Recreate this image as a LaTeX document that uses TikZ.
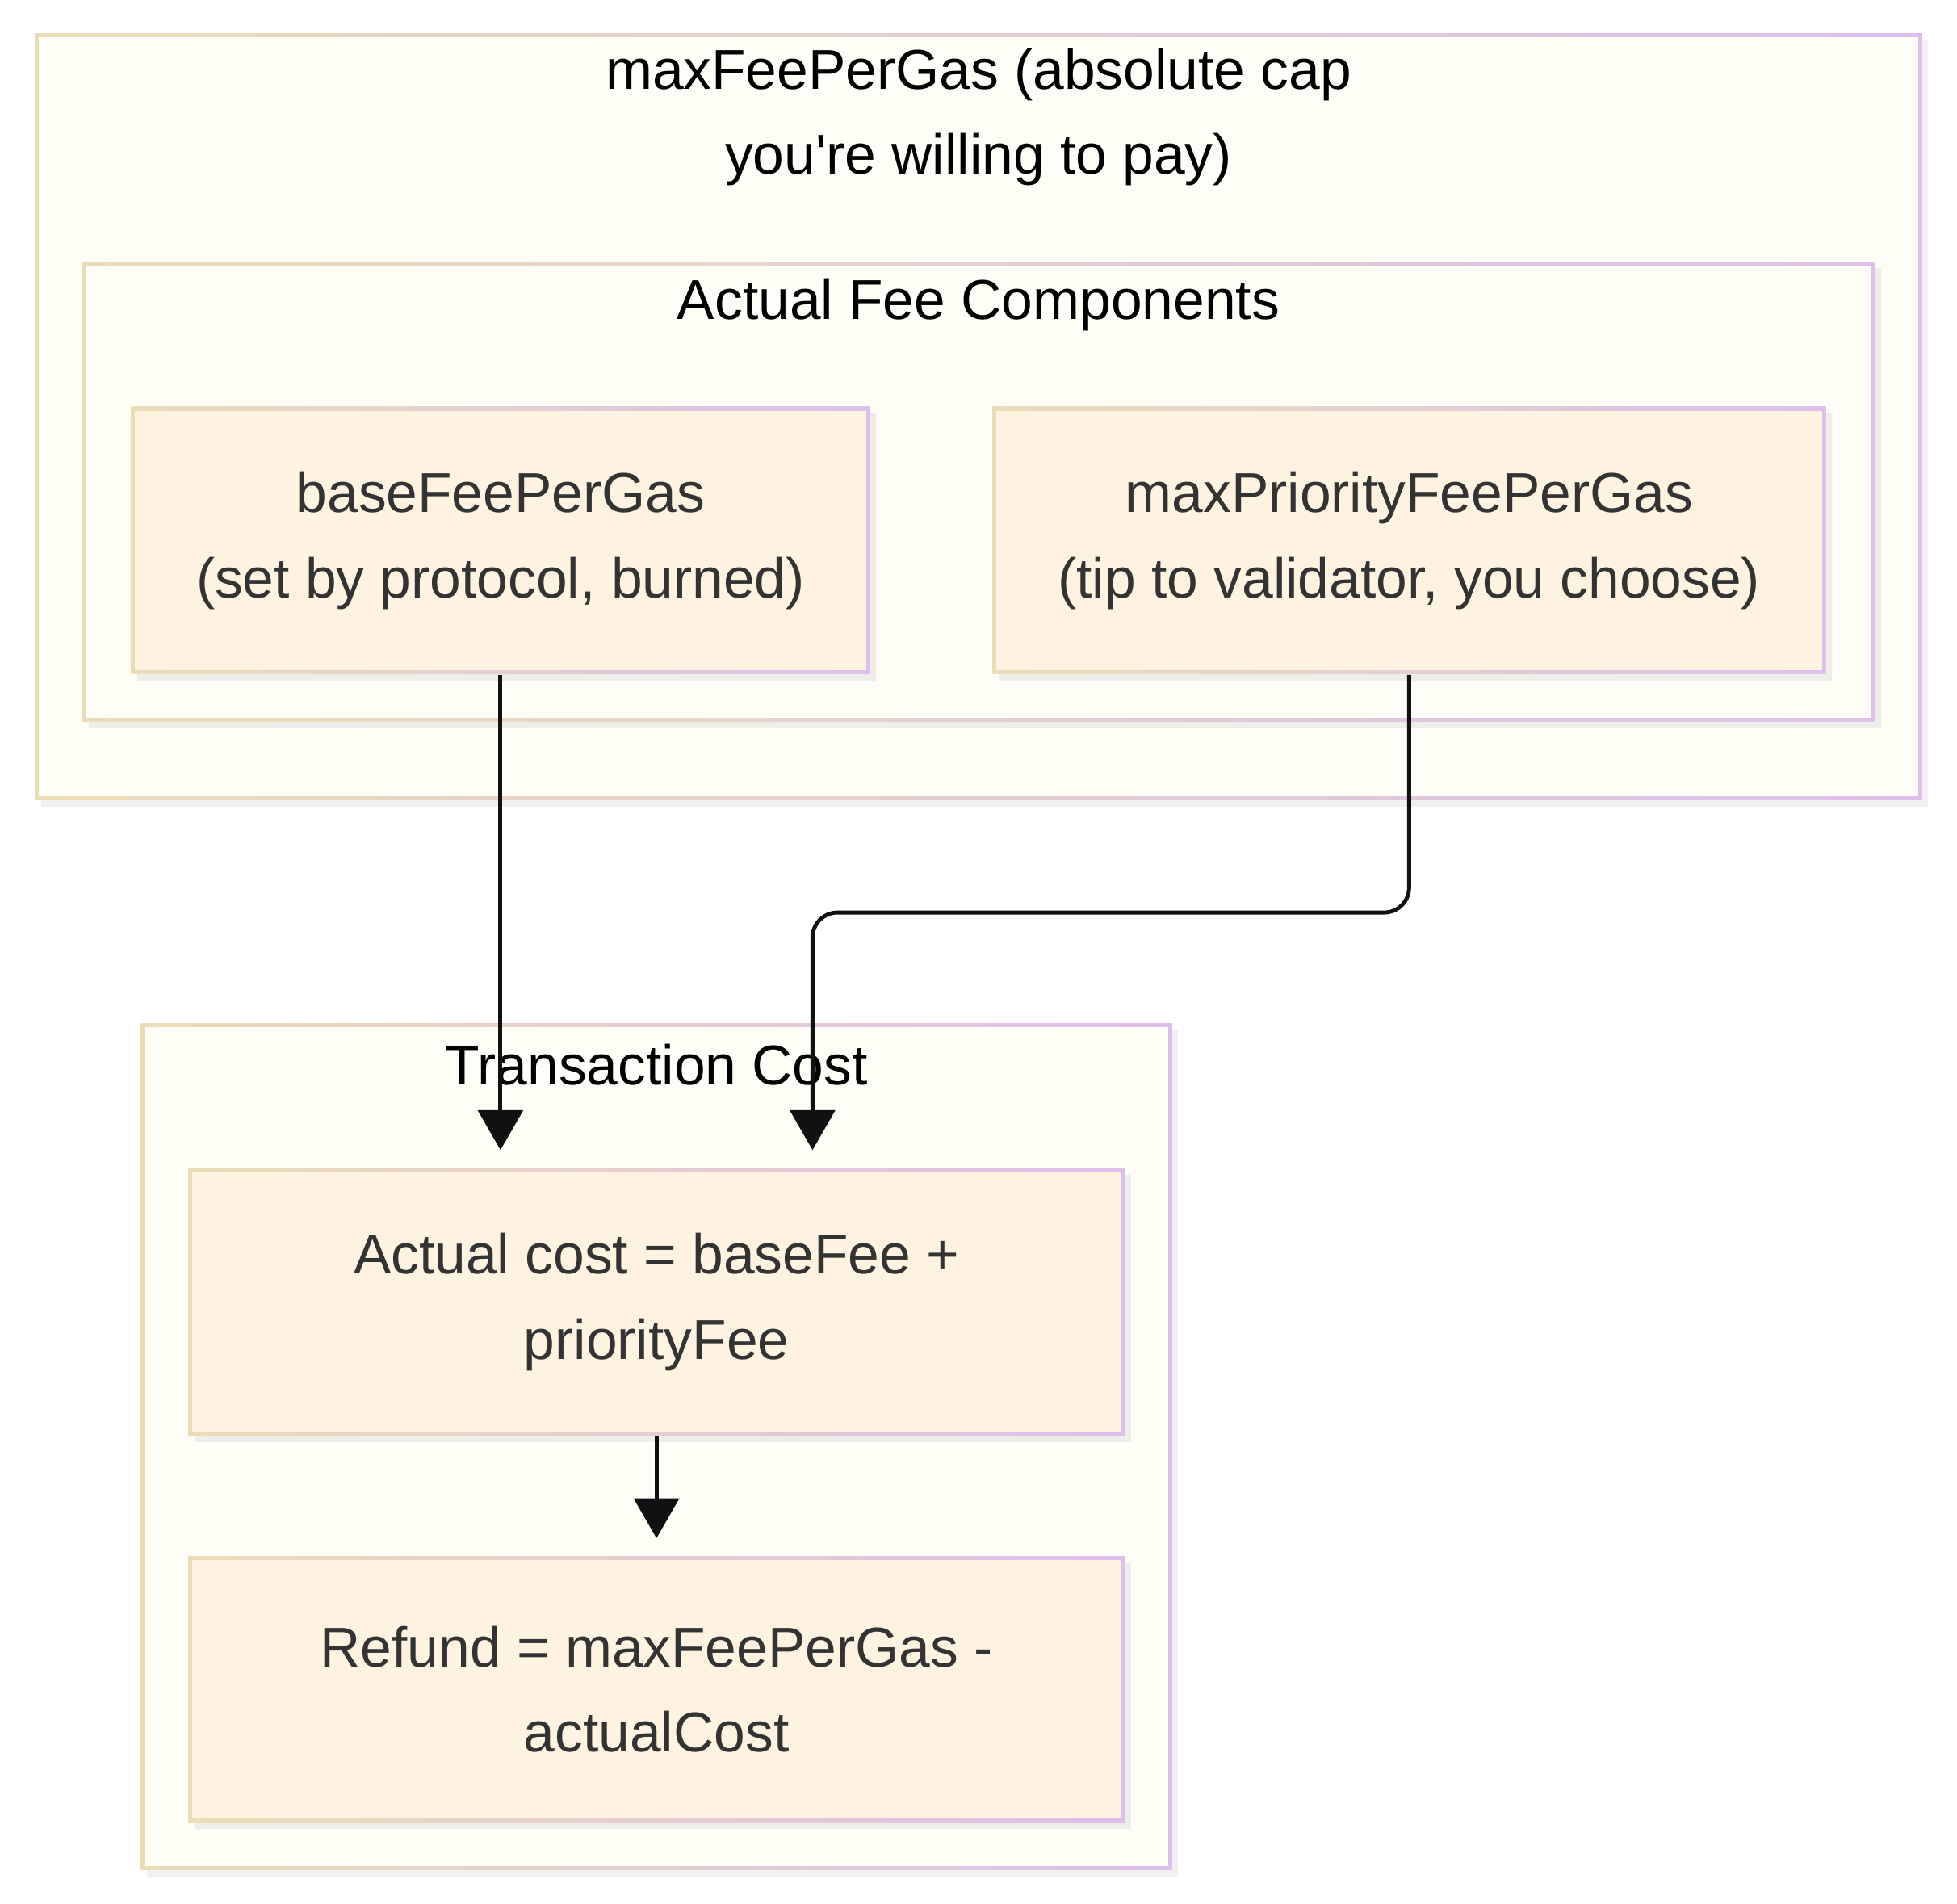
\documentclass[tikz,border=0pt]{standalone}
\usepackage{fontspec}
\setmainfont{Liberation Sans}
\usetikzlibrary{positioning,arrows.meta,shadows}
\definecolor{edgeA}{RGB}{236,220,182}
\definecolor{edgeB}{RGB}{222,190,236}
\definecolor{clfill}{RGB}{254,254,247}
\definecolor{bxfill}{RGB}{253,243,224}
\definecolor{txgray}{RGB}{51,51,51}
\definecolor{arblack}{RGB}{17,17,17}

\begin{document}
\begin{tikzpicture}[>={Triangle[length=0.32cm,width=0.36cm]},
    sh/.style={drop shadow={shadow xshift=0.05cm,shadow yshift=-0.05cm,opacity=0.12}},
    frame/.style={rectangle,inner sep=0pt,left color=edgeA,right color=edgeB,sh,
                  path picture={\fill[#1] ([shift={(0.03,-0.03)}]path picture bounding box.north west)
                                rectangle ([shift={(-0.03,0.03)}]path picture bounding box.south east);}},
    clus/.style={frame=clfill},
    box/.style={frame=bxfill,text=txgray,align=center,
                font=\fontsize{12.8}{19.4}\selectfont},
    ttl/.style={align=center,text=black,font=\fontsize{12.8}{19.4}\selectfont},
    ar/.style={->,line width=0.9pt,draw=arblack,shorten >=0.14cm}]
    \useasboundingbox (0,0) rectangle (15.68,-15.25);
    % clusters
    \node[clus,minimum width=15.12cm,minimum height=6.14cm] (cap) at (7.84,-3.34) {};
    \node[ttl] (capt) at (7.84,-0.94) {maxFeePerGas (absolute cap\\ you\textquotesingle re willing to pay)};
    \node[clus,minimum width=14.36cm,minimum height=3.68cm] (comp) at (7.84,-3.94) {};
    \node[ttl] (compt) at (7.84,-2.44) {Actual Fee Components};
    \node[clus,minimum width=8.26cm,minimum height=6.78cm] (tx) at (5.26,-11.59) {};
    \node[ttl] (txt) at (5.26,-8.53) {Transaction Cost};
    % boxes
    \node[box,minimum width=5.92cm,minimum height=2.14cm] (base) at (4.01,-4.33)
      {baseFeePerGas\\ (set by protocol, burned)};
    \node[box,minimum width=6.68cm,minimum height=2.14cm] (prio) at (11.29,-4.33)
      {maxPriorityFeePerGas\\ (tip to validator, you choose)};
    \node[box,minimum width=7.50cm,minimum height=2.14cm] (act) at (5.26,-10.43)
      {Actual cost = baseFee +\\ priorityFee};
    \node[box,minimum width=7.50cm,minimum height=2.13cm] (ref) at (5.26,-13.535)
      {Refund = maxFeePerGas -\\ actualCost};
    % connectors
    \coordinate (bend) at (6.51,-7.31);
    \draw[ar] (base.south) -- (base.south |- act.north);
    \draw[ar,rounded corners=0.2cm] (prio.south) |- (bend) -- (bend |- act.north);
    \draw[ar] (act.south) -- (ref.north);
\end{tikzpicture}
\end{document}
